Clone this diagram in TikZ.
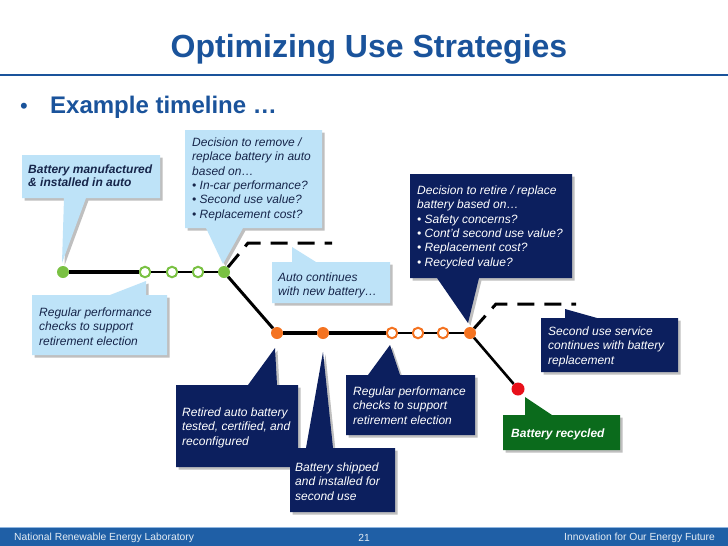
\documentclass[tikz,border=0pt]{standalone}
\usepackage{fontspec}
\setmainfont{Liberation Sans}
\usetikzlibrary{shadows}
\definecolor{titleblue}{HTML}{1A539B}
\definecolor{lightbox}{HTML}{BEE3F8}
\definecolor{navybox}{HTML}{0C1F5E}
\definecolor{greenbox}{HTML}{0B6B1C}
\definecolor{darktext}{HTML}{16254A}
\definecolor{dotgreen}{HTML}{7AC143}
\definecolor{dotorange}{HTML}{F47321}
\definecolor{dotred}{HTML}{E8101A}
\definecolor{footerblue}{HTML}{1F5FA6}
\definecolor{footerlight}{HTML}{8FB6E0}
\begin{document}
\begin{tikzpicture}[x=1pt,y=-1pt,
  callout/.style={fill=#1, drop shadow={shadow xshift=2.5pt,shadow yshift=-2.5pt,opacity=0.25,fill=black}},
  txtlight/.style={anchor=north west, inner sep=0pt, align=left, font=\fontsize{12}{14.4}\selectfont\itshape, text=darktext},
  txtdark/.style={txtlight, text=white},
  gdot/.style={circle, fill=dotgreen, minimum size=12pt, inner sep=0pt},
  gopen/.style={circle, draw=dotgreen, line width=2pt, fill=white, minimum size=10.5pt, inner sep=0pt},
  odot/.style={circle, fill=dotorange, minimum size=12pt, inner sep=0pt},
  oopen/.style={circle, draw=dotorange, line width=2pt, fill=white, minimum size=10.5pt, inner sep=0pt},
  rdot/.style={circle, fill=dotred, minimum size=13pt, inner sep=0pt},
  thickline/.style={line width=3.5pt, black},
  thinline/.style={line width=1.6pt, black},
  dashline/.style={line width=3pt, black, dash pattern=on 17pt off 10pt},
  footer/.style={inner sep=0pt, text=white!88!footerblue, font=\fontsize{10.3}{12}\selectfont}
]
\useasboundingbox (0,0) rectangle (728,546);
\fill[white] (0,0) rectangle (728,546);

% title
\node[anchor=base, inner sep=0pt, text=titleblue, font=\fontsize{32}{36}\selectfont\bfseries] (title) at (369,57) {Optimizing Use Strategies};
\draw[titleblue, line width=2.5pt] (0,75) -- (728,75);
\node[anchor=base west, inner sep=0pt, text=titleblue, font=\fontsize{22}{22}\selectfont] (bul) at (20,113) {•};
\node[anchor=base west, inner sep=0pt, text=titleblue, font=\fontsize{24}{28}\selectfont\bfseries] (ex) at (50,113) {Example timeline …};

% callouts
\path[callout=lightbox] (22,155) -- (160,155) -- (160,198) -- (86,198) -- (62,263) -- (64,198) -- (22,198) -- cycle;
\node[txtlight, font=\fontsize{12}{13.5}\selectfont\bfseries\itshape] (c1) at (28,164.5) {Battery manufactured\\\& installed in auto};

\path[callout=lightbox] (185,130) -- (322,130) -- (322,228) -- (243,228) -- (223,264) -- (206,228) -- (185,228) -- cycle;
\node[txtlight] (c2) at (192,137.5) {Decision to remove /\\replace battery in auto\\based on…\\• In-car performance?\\• Second use value?\\• Replacement cost?};

\path[callout=lightbox] (272,262) -- (292,262) -- (292,247) -- (316,262) -- (390,262) -- (390,303) -- (272,303) -- cycle;
\node[txtlight] (c3) at (278,272.5) {Auto continues\\with new battery…};

\path[callout=lightbox] (32,295) -- (110,295) -- (146,281) -- (146,295) -- (167,295) -- (167,355) -- (32,355) -- cycle;
\node[txtlight] (c4) at (39,307.5) {Regular performance\\checks to support\\retirement election};

\path[callout=navybox] (410,174) -- (572,174) -- (572,278) -- (479,278) -- (468,323) -- (437,278) -- (410,278) -- cycle;
\node[txtdark] (c5) at (417,185.5) {Decision to retire / replace\\battery based on…\\• Safety concerns?\\• Cont'd second use value?\\• Replacement cost?\\• Recycled value?};

\path[callout=navybox] (541,318) -- (565,318) -- (565,309) -- (597,318) -- (678,318) -- (678,372) -- (541,372) -- cycle;
\node[txtdark] (c6) at (548,326.5) {Second use service\\continues with battery\\replacement};

\path[callout=navybox] (176,385) -- (248,385) -- (275,348) -- (277,385) -- (298,385) -- (298,467) -- (176,467) -- cycle;
\node[txtdark] (c7) at (182,407.5) {Retired auto battery\\tested, certified, and\\reconfigured};

\path[callout=navybox] (290,448) -- (306,448) -- (323,352) -- (333,448) -- (395,448) -- (395,512) -- (290,512) -- cycle;
\node[txtdark] (c8) at (295,462.5) {Battery shipped\\and installed for\\second use};

\path[callout=navybox] (346,375) -- (368,375) -- (390,345) -- (400,375) -- (475,375) -- (475,435) -- (346,435) -- cycle;
\node[txtdark] (c9) at (353,386.5) {Regular performance\\checks to support\\retirement election};

\path[callout=greenbox] (503,415) -- (525,415) -- (525,397) -- (552,415) -- (620,415) -- (620,450) -- (503,450) -- cycle;
\node[txtdark, font=\fontsize{12}{14}\selectfont\bfseries\itshape] (c10) at (511,428.5) {Battery recycled};

% dots
\node[gdot] (g1) at (63,272) {};
\node[gopen] (g2) at (145,272) {};
\node[gopen] (g3) at (172,272) {};
\node[gopen] (g4) at (198,272) {};
\node[gdot] (g5) at (224,272) {};
\node[odot] (r1) at (277,333) {};
\node[odot] (r2) at (323,333) {};
\node[oopen] (r3) at (392,333) {};
\node[oopen] (r4) at (418,333) {};
\node[oopen] (r5) at (443,333) {};
\node[odot] (r6) at (470,333) {};
\node[rdot] (red) at (518,389) {};
\coordinate (gd1) at (248,243);
\coordinate (gd2) at (332,243);
\coordinate (od1) at (496,304);
\coordinate (od2) at (576,304);

% lines
\draw[thickline] (g1) -- (g2);
\draw[thinline] (g2) -- (g3);
\draw[thinline] (g3) -- (g4);
\draw[thinline] (g4) -- (g5);
\draw[thickline, line width=3pt] (g5) -- (r1);
\draw[dashline] (g5) -- (gd1) -- (gd2);
\draw[thickline] (r1) -- (r2);
\draw[thickline] (r2) -- (r3);
\draw[thinline] (r3) -- (r4);
\draw[thinline] (r4) -- (r5);
\draw[thinline] (r5) -- (r6);
\draw[dashline] (r6) -- (od1) -- (od2);
\draw[thickline, line width=2.6pt] (r6) -- (red);

% footer
\fill[footerblue] (0,528) rectangle (728,546);
\draw[footerlight, line width=1pt] (0,527.5) -- (728,527.5);
\node[footer, anchor=west] (f1) at (14,538) {National Renewable Energy Laboratory};
\node[footer] (f2) at (364,538) {21};
\node[footer, anchor=east] (f3) at (715,538) {Innovation for Our Energy Future};
\end{tikzpicture}
\end{document}
